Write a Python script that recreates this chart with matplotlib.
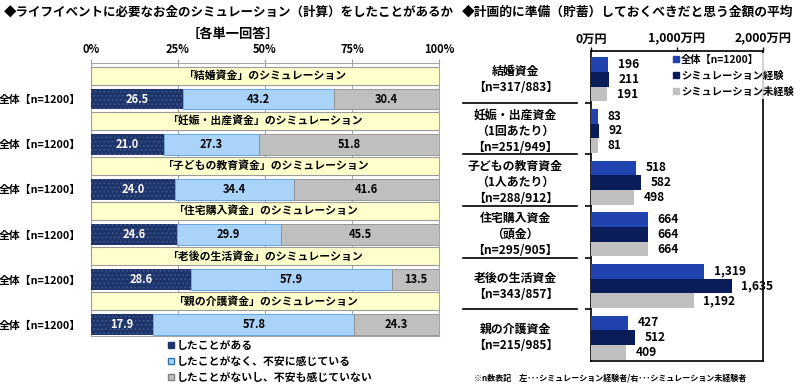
import matplotlib
matplotlib.use('Agg')
import matplotlib.pyplot as plt
from matplotlib.lines import Line2D
import matplotlib.transforms as mtrans

plt.rcParams['font.family'] = ['Noto Sans CJK JP', 'DejaVu Sans']
plt.rcParams['font.weight'] = 'bold'
plt.rcParams['hatch.linewidth'] = 0.7

# ---------------- data ----------------
left_title = "◆ライフイベントに必要なお金のシミュレーション（計算）をしたことがあるか"
left_subtitle = "［各単一回答］"
left_categories = ["「結婚資金」のシミュレーション", "「妊娠・出産資金」のシミュレーション",
                   "「子どもの教育資金」のシミュレーション", "「住宅購入資金」のシミュレーション",
                   "「老後の生活資金」のシミュレーション", "「親の介護資金」のシミュレーション"]
left_n = [1200, 1200, 1200, 1200, 1200, 1200]
have_done = [26.5, 21.0, 24.0, 24.6, 28.6, 17.9]
not_anxious = [43.2, 27.3, 34.4, 29.9, 57.9, 57.8]
not_calm = [30.4, 51.8, 41.6, 45.5, 13.5, 24.3]
left_series = ["したことがある", "したことがなく、不安に感じている", "したことがないし、不安も感じていない"]
left_ticks = [0, 25, 50, 75, 100]
left_ticklabels = ["0%", "25%", "50%", "75%", "100%"]

right_title = "◆計画的に準備（貯蓄）しておくべきだと思う金額の平均"
right_categories = ["結婚資金\n【n=317/883】",
                    "妊娠・出産資金\n（1回あたり）\n【n=251/949】",
                    "子どもの教育資金\n（1人あたり）\n【n=288/912】",
                    "住宅購入資金\n（頭金）\n【n=295/905】",
                    "老後の生活資金\n【n=343/857】",
                    "親の介護資金\n【n=215/985】"]
avg_total = [196, 83, 518, 664, 1319, 427]
avg_exp = [211, 92, 582, 664, 1635, 512]
avg_noexp = [191, 81, 498, 664, 1192, 409]
right_series = ["全体【n=1200】", "シミュレーション経験", "シミュレーション未経験"]
right_ticks = [0, 1000, 2000]
right_ticklabels = ["0万円", "1,000万円", "2,000万円"]
footnote = "※n数表記　左･･･シミュレーション経験者/右･･･シミュレーション未経験者"

# ---------------- styles ----------------
W, H = 800, 385
def fx(px): return px / W
def fy(py): return 1 - py / H

C_DARK = '#1F3468'
C_LIGHT = '#A9D3F8'
C_GRAY = '#BFBFBF'
C_YELLOW = '#FFFFCC'
C_R1 = '#2143B0'
C_R2 = '#0B1C5A'
C_R3 = '#C0C0C0'

fig = plt.figure(figsize=(8, 3.85), dpi=100)
fig.patch.set_facecolor('white')

# ---------------- left chart ----------------
axL = fig.add_axes([fx(91), fy(336), fx(439) - fx(91), fy(63) - fy(336)])
ng = len(left_categories)
box_y = [i + 0.28 for i in range(ng)]
bar_y = [i + 0.80 for i in range(ng)]
axL.set_xlim(0, 100)
axL.set_ylim(ng + 0.05, 0)

axL.barh(box_y, [100] * ng, height=0.40, color=C_YELLOW, edgecolor='#9A9A9A', lw=0.8, zorder=3)
for y, t in zip(box_y, left_categories):
    axL.text(50, y, t, ha='center', va='center', fontsize=7.8, zorder=4)

lefts = [0] * ng
seg_styles = [(C_DARK, '#3B5894', '....', 'white'),
              (C_LIGHT, '#5B9BD5', None, 'black'),
              (C_GRAY, '#8C8C8C', None, 'black')]
for vals, (fc, ec, hatch, tc) in zip([have_done, not_anxious, not_calm], seg_styles):
    if hatch:
        axL.barh(bar_y, vals, left=lefts, height=0.46, color=fc, edgecolor=ec, hatch=hatch, lw=0, zorder=3)
    else:
        axL.barh(bar_y, vals, left=lefts, height=0.46, color=fc, edgecolor=ec, lw=0.6, zorder=3)
    for y, l, v in zip(bar_y, lefts, vals):
        axL.text(l + v / 2, y, f"{v:.1f}", ha='center', va='center', fontsize=8, color=tc, zorder=4)
    lefts = [a + b for a, b in zip(lefts, vals)]

axL.xaxis.tick_top()
axL.set_xticks(left_ticks)
axL.set_xticklabels(left_ticklabels, fontsize=8)
axL.tick_params(axis='x', length=3, pad=2, color='#9A9A9A')
axL.set_yticks(bar_y)
axL.set_yticklabels([f"全体【n={n}】" for n in left_n], fontsize=7.8)
axL.tick_params(axis='y', length=0, pad=7)
axL.grid(axis='x', color='#A6A6A6', lw=0.8, zorder=0)
axL.set_axisbelow(True)
for s in axL.spines.values():
    s.set_color('#A6A6A6')
    s.set_linewidth(0.8)

fig.text(fx(4), fy(12), left_title, fontsize=9.0, va='center', ha='left')
fig.text(fx(233), fy(34), left_subtitle, fontsize=9.5, va='center', ha='center')

hL = [Line2D([], [], ls='', marker='s', markersize=4.5, markerfacecolor=C_DARK, markeredgecolor=C_DARK),
      Line2D([], [], ls='', marker='s', markersize=4.5, markerfacecolor=C_LIGHT, markeredgecolor='#2E75B6'),
      Line2D([], [], ls='', marker='s', markersize=4.5, markerfacecolor=C_GRAY, markeredgecolor='#7F7F7F')]
fig.legend(hL, left_series, loc='upper left', bbox_to_anchor=(fx(167), fy(341)), frameon=False,
           fontsize=7.8, handletextpad=0.1, labelspacing=0.55, borderpad=0, borderaxespad=0,
           handlelength=0.8)

# ---------------- right chart ----------------
axR = fig.add_axes([fx(591), fy(361), fx(763) - fx(591), fy(51) - fy(361)])
axR.set_xlim(0, 2000)
axR.set_ylim(ng, 0)
bh = 0.285
for k, (vals, col) in enumerate(zip([avg_total, avg_exp, avg_noexp], [C_R1, C_R2, C_R3])):
    ys = [i + 0.12 + bh * k + bh / 2 for i in range(ng)]
    axR.barh(ys, vals, height=bh, color=col, lw=0, zorder=3)
    for y, v in zip(ys, vals):
        axR.annotate(f"{v:,}", (v, y), xytext=(7, 0), textcoords='offset points',
                     ha='left', va='center', fontsize=8.6)

axR.xaxis.tick_top()
axR.set_xticks(right_ticks)
axR.set_xticklabels(right_ticklabels, fontsize=8.8)
axR.tick_params(axis='x', length=3, pad=1, width=1)
bounds = list(range(1, ng))
axR.set_yticks(bounds)
axR.set_yticklabels([])
axR.tick_params(axis='y', length=4, width=1.2, direction='out')
for s in axR.spines.values():
    s.set_color('black')
    s.set_linewidth(1.2)

trR = mtrans.blended_transform_factory(axR.transAxes, axR.transData)
for b in bounds:
    axR.plot([-0.744, -0.081], [b, b], transform=trR, clip_on=False, color='black', lw=1.2)
for i, lab in enumerate(right_categories):
    axR.text(-0.44, i + 0.55, lab, transform=trR, ha='center', va='center', fontsize=8.6, linespacing=1.3)

fig.text(fx(462), fy(12), right_title, fontsize=9.2, va='center', ha='left')

hR = [Line2D([], [], ls='', marker='s', markersize=4.2, color=c) for c in [C_R1, C_R2, C_R3]]
legR = fig.legend(hR, right_series, loc='upper left', bbox_to_anchor=(fx(670), fy(53)), frameon=True,
                  fontsize=7.4, handletextpad=0.1, labelspacing=0.6, borderpad=0.15, borderaxespad=0,
                  handlelength=0.8, fancybox=False)
legR.get_frame().set_facecolor('white')
legR.get_frame().set_edgecolor('none')

fig.text(fx(474), fy(378), footnote, fontsize=5.8, va='center', ha='left')

fig.savefig('out.png', dpi=100, facecolor='white')
